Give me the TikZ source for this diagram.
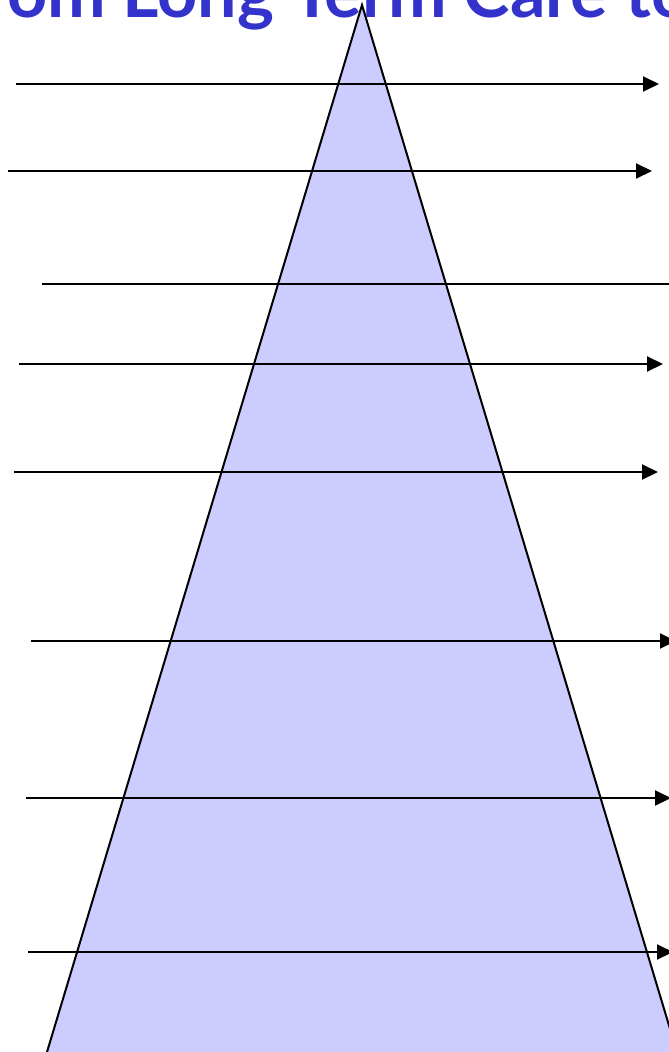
\documentclass[tikz,border=0pt]{standalone}
\usepackage{fontspec}
\setsansfont{Lato}
\usetikzlibrary{arrows.meta}
\definecolor{ctitle}{HTML}{3333CC}
\definecolor{cpyramid}{HTML}{CCCCFF}
\tikzset{
  every picture/.style={font=\sffamily, line width=2pt},
  arrow/.style={-{Triangle[length=16pt, width=15pt]}, draw=black, line width=2pt},
  title/.style={font=\sffamily\bfseries\fontsize{70}{72}\selectfont, text=ctitle, inner sep=0pt},
}
\begin{document}
\begin{tikzpicture}[x=1pt, y=-1pt]
  \useasboundingbox (0,0) rectangle (669,1052);
  \clip (0,0) rectangle (669,1052);
  % title, cut by the top edge
  \node[title, anchor=base west] (head) at (6,17) {om Long Term Care to};
  % pyramid
  \coordinate (apex) at (362,5);
  \coordinate (bl) at (47,1052);
  \coordinate (br) at (677,1052);
  \fill[cpyramid] (apex) -- (bl) -- (br) -- cycle;
  \draw (bl) -- (apex) -- (br);
  % arrows across the pyramid
  \foreach \y/\a/\b in {84/16/659, 171/8/652, 364/19/663, 472/14/658, 641/31/676, 798/26/671, 952/28/673}
    \draw[arrow] (\a,\y) -- (\b,\y);
  \draw (42,284) -- (680,284);
\end{tikzpicture}
\end{document}
